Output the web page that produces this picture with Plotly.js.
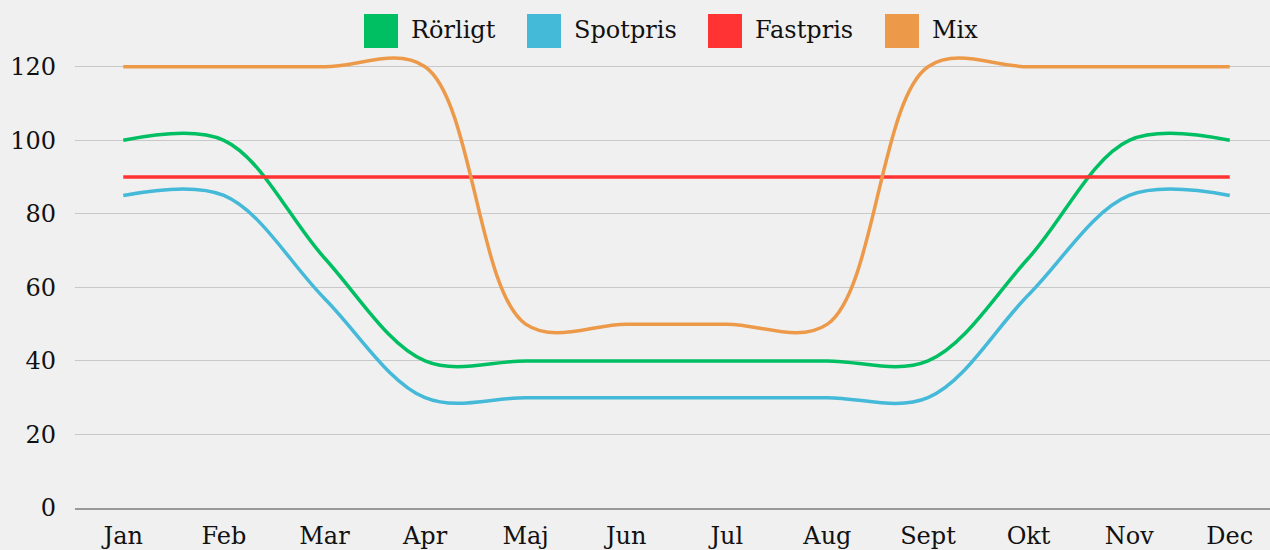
<!DOCTYPE html>
<html>
<head>
<meta charset="utf-8">
<script src="https://cdn.plot.ly/plotly-3.0.1.min.js"></script>
<style>html,body{margin:0;padding:0;background:#f0f0f0;}#chart{width:1270px;height:550px;}</style>
</head>
<body>
<div id="chart"></div>
<script>
const months = ["Jan","Feb","Mar","Apr","Maj","Jun","Jul","Aug","Sept","Okt","Nov","Dec"];
const seriesNames = ["Rörligt","Spotpris","Fastpris","Mix"];
const rorligt  = [100,100,68,40,40,40,40,40,40,68,100,100];
const spotpris = [85,85,57,30,30,30,30,30,30,58,85,85];
const fastpris = [90,90,90,90,90,90,90,90,90,90,90,90];
const mix      = [120,120,120,120,50,50,50,50,120,120,120,120];
const yTicks = [0,20,40,60,80,100,120];

const colors = ["#00bf63","#44b9d8","#ff3333","#ec9a4a"];
const values = [rorligt, spotpris, fastpris, mix];

const W = 1270, H = 550, L = 75, R = 0, T = 30, B = 42;
const pw = W - L - R, ph = H - T - B;
const px = x => (x - L) / pw;
const py = y => (H - B - y) / ph;

const traces = values.map((v, i) => ({
  x: months, y: v, type: "scatter", mode: "lines", name: seriesNames[i],
  line: {color: colors[i], width: 3.5, shape: "spline", smoothing: 1},
  showlegend: false, hoverinfo: "skip"
}));

// Manual legend (large square swatches)
const legendX = [364, 527, 708, 885];
const shapes = [], annotations = [];
legendX.forEach((x0, i) => {
  shapes.push({type: "rect", xref: "paper", yref: "paper",
    x0: px(x0), x1: px(x0 + 34), y0: py(48), y1: py(14),
    fillcolor: colors[i], line: {width: 0}, layer: "above"});
  annotations.push({xref: "paper", yref: "paper", x: px(x0 + 45), y: py(30),
    xanchor: "left", yanchor: "middle", showarrow: false, text: seriesNames[i],
    font: {family: "DejaVu Serif", size: 24, color: "#111"}});
});

const layout = {
  width: W, height: H,
  paper_bgcolor: "#f0f0f0", plot_bgcolor: "#f0f0f0",
  margin: {l: L, r: R, t: T, b: B, pad: 0},
  font: {family: "DejaVu Serif", size: 24, color: "#111"},
  showlegend: false,
  xaxis: {type: "category", range: [-0.48, 11.4], showgrid: false, zeroline: false,
    showline: true, linecolor: "#999", linewidth: 1.5, ticks: "", ticklabelstandoff: 6,
    tickfont: {family: "DejaVu Serif", size: 24, color: "#111"}, fixedrange: true},
  yaxis: {range: [0, 130], tickvals: yTicks, ticktext: yTicks.map(String),
    showgrid: true, gridcolor: "#c8c8c8", gridwidth: 1, zeroline: false,
    showline: false, ticks: "", ticklabelstandoff: 18,
    tickfont: {family: "DejaVu Serif", size: 24, color: "#111"}, fixedrange: true},
  shapes: shapes, annotations: annotations
};

Plotly.newPlot("chart", traces, layout, {displayModeBar: false, staticPlot: true});
</script>
</body>
</html>
